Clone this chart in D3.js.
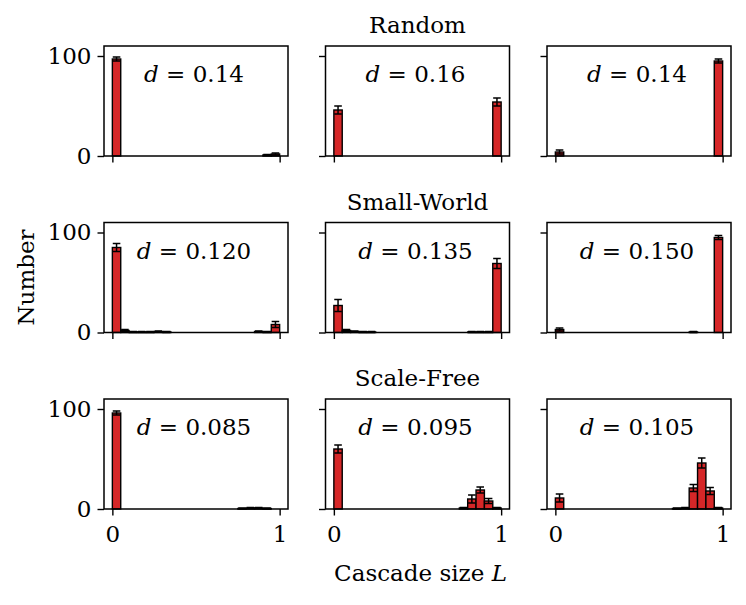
<!DOCTYPE html>
<html>
<head>
<meta charset="utf-8">
<script src="https://cdn.jsdelivr.net/npm/d3@7"></script>
<style>
  body { margin: 0; background: #fff; }
</style>
</head>
<body>
<svg id="svg1" width="746" height="605"></svg>
<script>
// row titles and the d value shown in each panel
const rowTitles = ["Random", "Small-World", "Scale-Free"];
const dLabels = [
    ["0.14", "0.16", "0.14"],
    ["0.120", "0.135", "0.150"],
    ["0.085", "0.095", "0.105"]
];
const yTicks = [0, 100];
const xTicks = [0, 1];

// counts per bin (20 bins of width 0.05 on [0,1]) and their error bars
const randomCounts = [
    [97, 0, 0, 0, 0, 0, 0, 0, 0, 0, 0, 0, 0, 0, 0, 0, 0, 0, 1, 2],
    [46, 0, 0, 0, 0, 0, 0, 0, 0, 0, 0, 0, 0, 0, 0, 0, 0, 0, 0, 54],
    [4, 0, 0, 0, 0, 0, 0, 0, 0, 0, 0, 0, 0, 0, 0, 0, 0, 0, 0, 95]
];
const randomErrors = [
    [2, 0, 0, 0, 0, 0, 0, 0, 0, 0, 0, 0, 0, 0, 0, 0, 0, 0, 0.5, 1],
    [4, 0, 0, 0, 0, 0, 0, 0, 0, 0, 0, 0, 0, 0, 0, 0, 0, 0, 0, 4],
    [2, 0, 0, 0, 0, 0, 0, 0, 0, 0, 0, 0, 0, 0, 0, 0, 0, 0, 0, 2]
];
const smallWorldCounts = [
    [85, 2, 0.5, 0.5, 0.5, 1, 0.5, 0, 0, 0, 0, 0, 0, 0, 0, 0, 0, 1, 0.5, 8],
    [27, 2, 1, 0.5, 0.5, 0, 0, 0, 0, 0, 0, 0, 0, 0, 0, 0, 0.5, 0.5, 0.5, 69],
    [3, 0, 0, 0, 0, 0, 0, 0, 0, 0, 0, 0, 0, 0, 0, 0, 0.5, 0, 0, 95]
];
const smallWorldErrors = [
    [4, 1, 0.5, 0.5, 0.5, 0.5, 0.5, 0, 0, 0, 0, 0, 0, 0, 0, 0, 0, 0.5, 0.5, 3],
    [6, 1, 0.5, 0.5, 0.5, 0, 0, 0, 0, 0, 0, 0, 0, 0, 0, 0, 0.5, 0.5, 0.5, 5],
    [1.5, 0, 0, 0, 0, 0, 0, 0, 0, 0, 0, 0, 0, 0, 0, 0, 0.5, 0, 0, 2]
];
const scaleFreeCounts = [
    [96, 0, 0, 0, 0, 0, 0, 0, 0, 0, 0, 0, 0, 0, 0, 0.5, 1, 1, 0.5, 0],
    [60, 0, 0, 0, 0, 0, 0, 0, 0, 0, 0, 0, 0, 0, 0, 1, 10, 19, 8, 1],
    [11, 0, 0, 0, 0, 0, 0, 0, 0, 0, 0, 0, 0, 0, 0.5, 1, 21, 46, 18, 1]
];
const scaleFreeErrors = [
    [2, 0, 0, 0, 0, 0, 0, 0, 0, 0, 0, 0, 0, 0, 0, 0.5, 0.5, 0.5, 0.5, 0],
    [4, 0, 0, 0, 0, 0, 0, 0, 0, 0, 0, 0, 0, 0, 0, 0.5, 4, 3, 2.5, 0.5],
    [4, 0, 0, 0, 0, 0, 0, 0, 0, 0, 0, 0, 0, 0, 0.5, 0.5, 3.5, 5, 3.5, 0.5]
];

const allCounts = [randomCounts, smallWorldCounts, scaleFreeCounts];
const allErrors = [randomErrors, smallWorldErrors, scaleFreeErrors];
const binWidth = 0.05;
const FONT = "'DejaVu Serif', serif";

const svg = d3.select("#svg1");
const pw = 184, ph = 110;
const colX = [104, 325.5, 547];
const rowY = [46, 222.5, 399];

const x = d3.scaleLinear().domain([-0.05, 1.05]).range([0, pw]);
const y = d3.scaleLinear().domain([0, 110]).range([ph, 0]);

for (let r = 0; r < 3; r++) {
    // row title over the middle panel
    svg.append("text")
        .attr("x", colX[1] + pw / 2)
        .attr("y", rowY[r] - 13)
        .attr("text-anchor", "middle")
        .style("font-family", FONT)
        .style("font-size", "23px")
        .text(rowTitles[r]);

    for (let c = 0; c < 3; c++) {
        const g = svg.append("g")
            .attr("transform", "translate(" + colX[c] + "," + rowY[r] + ")");
        const counts = allCounts[r][c];
        const errs = allErrors[r][c];
        const bins = counts.map((v, i) => ({ x0: i * binWidth, v: v, e: errs[i] }));

        // bars
        g.selectAll("rect.bar")
            .data(bins)
            .enter().append("rect")
            .attr("class", "bar")
            .attr("x", d => x(d.x0))
            .attr("width", d => x(d.x0 + binWidth) - x(d.x0))
            .attr("y", d => y(d.v))
            .attr("height", d => y(0) - y(d.v))
            .attr("fill", "#d62728")
            .attr("stroke", "#000")
            .attr("stroke-width", 1.4);

        // error bars
        const eb = g.selectAll("g.err")
            .data(bins.filter(d => d.e > 0))
            .enter().append("g")
            .attr("class", "err")
            .attr("stroke", "#000")
            .attr("stroke-width", 1.5);
        const cx = d => x(d.x0 + binWidth / 2);
        eb.append("line")
            .attr("x1", cx).attr("x2", cx)
            .attr("y1", d => y(Math.max(0, d.v - d.e)))
            .attr("y2", d => y(d.v + d.e));
        eb.append("line")
            .attr("x1", d => cx(d) - 3.8).attr("x2", d => cx(d) + 3.8)
            .attr("y1", d => y(d.v + d.e)).attr("y2", d => y(d.v + d.e));
        eb.append("line")
            .attr("x1", d => cx(d) - 3.8).attr("x2", d => cx(d) + 3.8)
            .attr("y1", d => y(Math.max(0, d.v - d.e))).attr("y2", d => y(Math.max(0, d.v - d.e)));

        // frame
        g.append("rect")
            .attr("width", pw).attr("height", ph)
            .attr("fill", "none")
            .attr("stroke", "#000")
            .attr("stroke-width", 1.5);

        // y axis
        const ya = g.append("g")
            .call(d3.axisLeft(y).tickValues(yTicks).tickSize(6.5).tickPadding(6)
                .tickFormat(c === 0 ? d3.format("d") : ""));
        ya.select(".domain").remove();
        ya.selectAll("line").attr("stroke-width", 1.4);
        ya.selectAll("text").style("font-family", FONT).style("font-size", "23px");

        // x axis
        const xa = g.append("g")
            .attr("transform", "translate(0," + ph + ")")
            .call(d3.axisBottom(x).tickValues(xTicks).tickSize(6.5).tickPadding(10)
                .tickFormat(r === 2 ? d3.format("d") : ""));
        xa.select(".domain").remove();
        xa.selectAll("line").attr("stroke-width", 1.4);
        xa.selectAll("text").style("font-family", FONT).style("font-size", "23px");

        // d label
        const lab = g.append("text")
            .attr("x", pw / 2 - 2)
            .attr("y", 36)
            .attr("text-anchor", "middle")
            .style("font-family", FONT)
            .style("font-size", "23px");
        lab.append("tspan").style("font-style", "italic").text("d");
        lab.append("tspan").text(" = " + dLabels[r][c]);
    }
}

// shared axis labels
svg.append("text")
    .attr("transform", "translate(34," + (rowY[1] + ph / 2) + ") rotate(-90)")
    .attr("text-anchor", "middle")
    .style("font-family", FONT)
    .style("font-size", "23px")
    .text("Number");

const xl = svg.append("text")
    .attr("x", colX[1] + pw / 2 + 3)
    .attr("y", 581)
    .attr("text-anchor", "middle")
    .style("font-family", FONT)
    .style("font-size", "23px");
xl.append("tspan").text("Cascade size ");
xl.append("tspan").style("font-style", "italic").text("L");
</script>
</body>
</html>
